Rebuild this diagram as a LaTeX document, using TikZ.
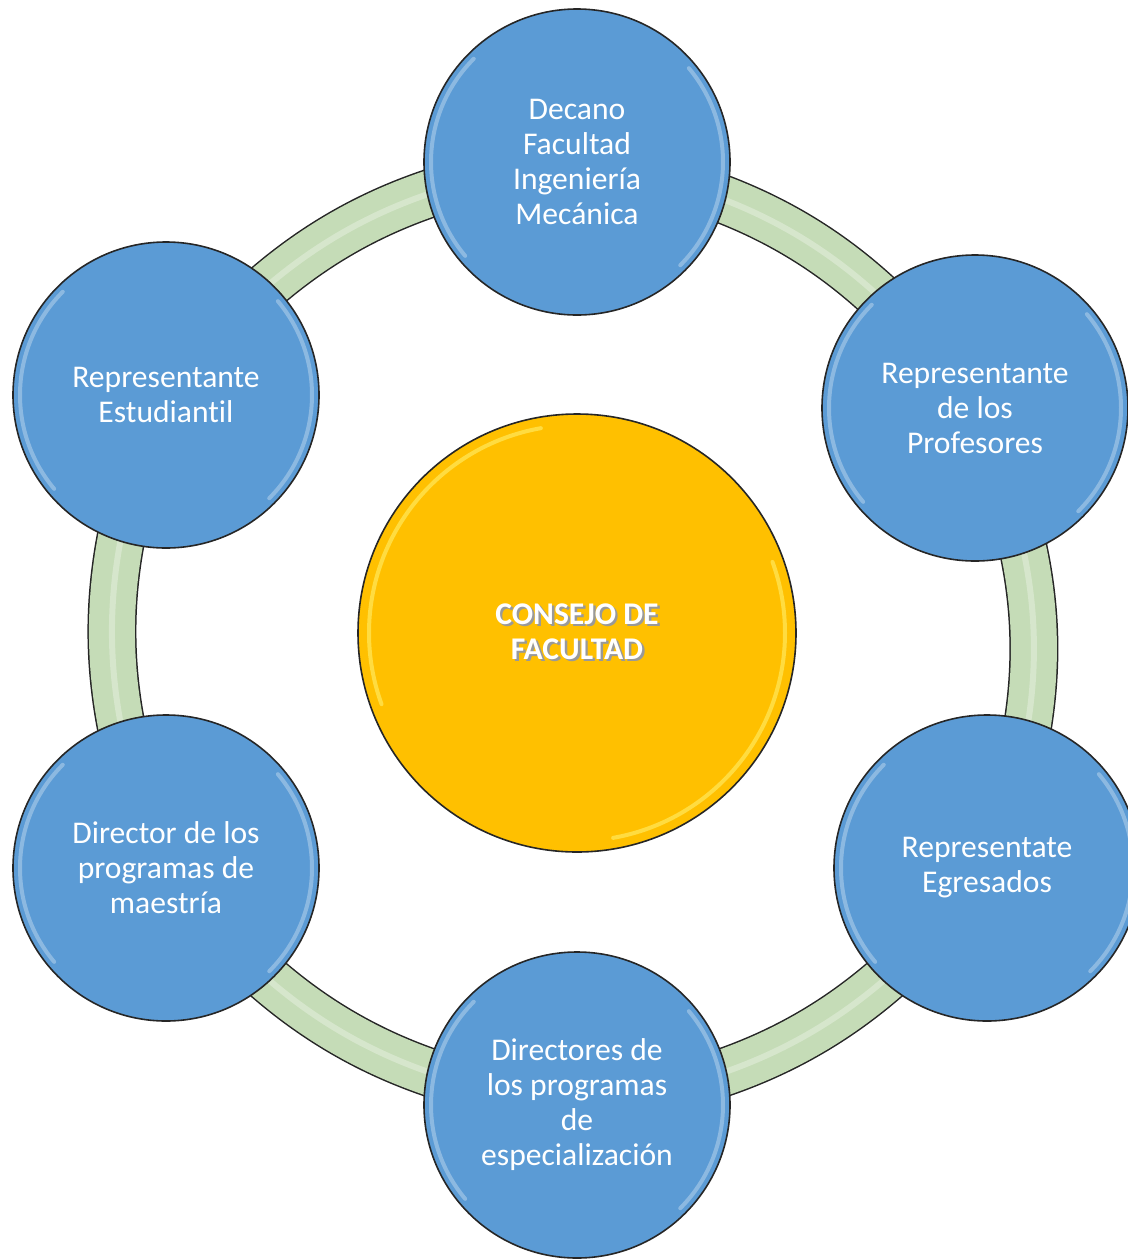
\documentclass[tikz,border=0pt]{standalone}
\usepackage{fontspec}
\setmainfont[Ligatures=NoCommon]{Carlito}
\definecolor{memberblue}{HTML}{5B9BD5}
\definecolor{hubyellow}{HTML}{FFC000}
\definecolor{ringgreen}{HTML}{C5DCB7}
\newcommand\shadowline[1]{\rlap{\raisebox{-1.2pt}{\hspace{1.2pt}\textcolor{black!40}{#1}}}#1}
\tikzset{
  shine/.style={white, opacity=.3, line width=2pt, line cap=round},
  member/.style={circle, draw=black!85, line width=.8pt, fill=memberblue,
    minimum size=153pt, inner sep=0pt, text=white, align=center,
    font=\fontsize{15.8}{17.5}\selectfont,
    path picture={
      \draw[shine] ([shift={(135:73pt)}]path picture bounding box.center)
        arc[start angle=135, end angle=220, radius=73pt];
      \draw[shine] ([shift={(-45:73pt)}]path picture bounding box.center)
        arc[start angle=-45, end angle=40, radius=73pt];
    }},
  hub/.style={circle, draw=black!85, line width=.8pt, fill=hubyellow,
    minimum size=219pt, inner sep=0pt, text=white, align=center,
    font=\fontsize{15.8}{17.5}\selectfont\bfseries,
    path picture={
      \draw[shine, draw=yellow!50, opacity=.5] ([shift={(100:104pt)}]path picture bounding box.center)
        arc[start angle=100, end angle=200, radius=104pt];
      \draw[shine, draw=yellow!50, opacity=.5] ([shift={(-80:104pt)}]path picture bounding box.center)
        arc[start angle=-80, end angle=20, radius=104pt];
    }},
  ringedge/.style={draw=black!85, line width=24.5pt},
  ringfill/.style={draw=ringgreen, line width=23pt},
  ringshine/.style={draw=white, opacity=.3, line width=3pt}
}
\begin{document}
\begin{tikzpicture}[x=0.5pt, y=-0.5pt]
  \useasboundingbox (0,0) rectangle (1128,1259);
  \clip (0,0) rectangle (1128,1259);
  % positions of the members
  \path
    (577,162) coordinate (p-decano)
    (975,408) coordinate (p-profesores)
    (987,868) coordinate (p-egresados)
    (577,1105) coordinate (p-especializacion)
    (166,868) coordinate (p-maestria)
    (166,395) coordinate (p-estudiantil);
  % ring between the members
  \foreach \ringstyle in {ringedge, ringfill, ringshine}
    \foreach \a/\b in {decano/profesores, profesores/egresados,
        egresados/especializacion, especializacion/maestria,
        maestria/estudiantil, estudiantil/decano}
      \draw[\ringstyle] (p-\a) to[bend left=23] (p-\b);
  % members
  \node[member] (decano) at (p-decano) {Decano\\Facultad\\Ingeniería\\Mecánica};
  \node[member] (profesores) at (p-profesores) {Representante\\de los\\Profesores};
  \node[member] (egresados) at (p-egresados) {Representate\\Egresados};
  \node[member] (especializacion) at (p-especializacion) {Directores de\\los programas\\de\\especialización};
  \node[member] (maestria) at (p-maestria) {Director de los\\programas de\\maestría};
  \node[member] (estudiantil) at (p-estudiantil) {Representante\\Estudiantil};
  % center
  \node[hub] (consejo) at (577,633) {\shadowline{CONSEJO DE}\\\shadowline{FACULTAD}};
\end{tikzpicture}
\end{document}
